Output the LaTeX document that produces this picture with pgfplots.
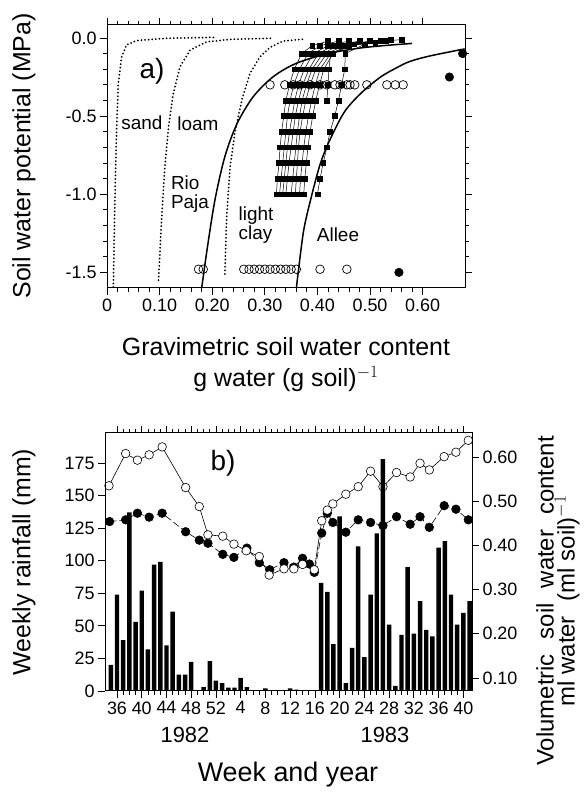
\documentclass[border=0pt]{standalone}
\usepackage{fontspec}
\setmainfont{Liberation Sans}
\usepackage{pgfplots}
\pgfplotsset{compat=1.18}
\newcommand{\fs}[1]{\fontsize{#1}{#1}\selectfont}

\pgfplotsset{
  frame/.style={scale only axis, clip=false, tick align=outside,
    major tick length=7bp, minor tick length=4bp,
    every tick/.style={black, line width=0.8bp},
    axis line style={line width=1bp},
    tick label style={font=\fs{18}},
    /pgf/number format/assume math mode=true},
  sq/.style={black, line width=0.5bp, mark=square*, mark size=2.4bp},
  dots/.style={black, line width=2bp, line cap=round, dash pattern=on 0bp off 3.6bp},
  curve/.style={black, line width=1.5bp, smooth},
}

\begin{document}
\begin{tikzpicture}[x=1bp,y=1bp]
\path[use as bounding box] (0,0) rectangle (584,793);

% ---- a) ----
\begin{axis}[frame, at={(107bp,505bp)}, anchor=south west, width=358bp, height=263bp,
  xmin=0, xmax=0.6806, ymin=-1.6, ymax=0.083,
  xtick={0,0.1,0.2,0.3,0.4,0.5,0.6}, xticklabels={0,0.10,0.20,0.30,0.40,0.50,0.60},
  minor x tick num=4,
  ytick={-1.5,-1,-0.5,0}, yticklabels={-1.5,-1.0,-0.5,0.0}, minor y tick num=4]
% sand
\addplot[dots] coordinates {(0.012,-1.594) (0.015,-1.04) (0.018,-0.61) (0.0215,-0.29) (0.028,-0.12) (0.037,-0.045) (0.056,-0.017) (0.113,-0.002) (0.209,0.004)};
% loam
\addplot[dots] coordinates {(0.098,-1.55) (0.104,-1.145) (0.110,-0.825) (0.117,-0.57) (0.126,-0.355) (0.139,-0.184) (0.158,-0.077) (0.19,-0.024) (0.24,-0.008) (0.316,-0.002)};
% light clay
\addplot[dots] coordinates {(0.224,-1.51) (0.2275,-1.145) (0.234,-0.825) (0.243,-0.61) (0.256,-0.40) (0.272,-0.226) (0.291,-0.12) (0.31,-0.06) (0.335,-0.02) (0.373,-0.008)};
% Rio Paja
\addplot[curve] coordinates {(0.18,-1.6) (0.19,-1.36) (0.205,-1.04) (0.224,-0.76) (0.247,-0.55) (0.278,-0.376) (0.316,-0.248) (0.36,-0.162) (0.42,-0.1) (0.48,-0.065) (0.53,-0.048) (0.58,-0.035)};
% Allee
\addplot[curve] coordinates {(0.36,-1.6) (0.373,-1.25) (0.386,-1.05) (0.405,-0.81) (0.424,-0.65) (0.452,-0.47) (0.484,-0.35) (0.52,-0.25) (0.551,-0.19) (0.576,-0.15) (0.614,-0.115) (0.68,-0.07)};
% drying curves
\addplot[sq] coordinates {(0.322,-1)(0.324,-0.9)(0.327,-0.8)(0.329,-0.7)(0.332,-0.6)(0.336,-0.5)(0.340,-0.4)(0.347,-0.3)(0.356,-0.2)(0.37,-0.1)(0.39,-0.05)(0.42,-0.02)};
\addplot[sq] coordinates {(0.328,-1)(0.331,-0.9)(0.334,-0.8)(0.337,-0.7)(0.340,-0.6)(0.343,-0.5)(0.348,-0.4)(0.355,-0.3)(0.366,-0.2)(0.382,-0.1)(0.405,-0.05)(0.44,-0.02)};
\addplot[sq] coordinates {(0.334,-1)(0.337,-0.9)(0.340,-0.8)(0.343,-0.7)(0.347,-0.6)(0.352,-0.5)(0.357,-0.4)(0.364,-0.3)(0.375,-0.2)(0.392,-0.1)(0.42,-0.05)(0.46,-0.02)};
\addplot[sq] coordinates {(0.340,-1)(0.343,-0.9)(0.346,-0.8)(0.350,-0.7)(0.354,-0.6)(0.358,-0.5)(0.364,-0.4)(0.372,-0.3)(0.384,-0.2)(0.402,-0.1)(0.43,-0.05)(0.48,-0.02)};
\addplot[sq] coordinates {(0.350,-1)(0.353,-0.9)(0.356,-0.8)(0.359,-0.7)(0.362,-0.6)(0.366,-0.5)(0.371,-0.4)(0.379,-0.3)(0.39,-0.2)(0.41,-0.1)(0.44,-0.05)(0.50,-0.02)};
\addplot[sq] coordinates {(0.358,-1)(0.36,-0.9)(0.362,-0.8)(0.364,-0.7)(0.367,-0.6)(0.372,-0.5)(0.378,-0.4)(0.386,-0.3)(0.397,-0.2)(0.418,-0.1)(0.45,-0.05)(0.52,-0.02)};
\addplot[sq] coordinates {(0.366,-1)(0.368,-0.9)(0.371,-0.8)(0.374,-0.7)(0.378,-0.6)(0.383,-0.5)(0.389,-0.4)(0.396,-0.3)(0.405,-0.2)(0.425,-0.1)(0.46,-0.05)(0.54,-0.01)};
\addplot[sq] coordinates {(0.374,-1)(0.376,-0.9)(0.379,-0.8)(0.382,-0.7)(0.386,-0.6)(0.391,-0.5)(0.397,-0.4)(0.404,-0.3)(0.412,-0.2)(0.43,-0.1)(0.47,-0.04)(0.56,-0.01)};
\addplot[sq] coordinates {(0.40,-1)(0.405,-0.9)(0.411,-0.8)(0.418,-0.7)(0.424,-0.6)(0.433,-0.5)(0.44,-0.4)(0.446,-0.3)(0.452,-0.2)(0.453,-0.1)(0.49,-0.04)(0.53,-0.02)};
\addplot[sq] coordinates {(0.418,-0.4)(0.42,-0.3)(0.422,-0.2)(0.425,-0.1)(0.46,-0.05)(0.51,-0.03)};
% field points
\addplot[only marks, mark=o, mark size=4.3bp, line width=0.7bp, mark options={fill=white}] coordinates {
(0.31,-0.3)(0.338,-0.3)(0.354,-0.3)(0.367,-0.3)(0.386,-0.3)(0.405,-0.3)(0.418,-0.3)(0.433,-0.3)
(0.443,-0.3)(0.456,-0.3)(0.462,-0.3)(0.471,-0.3)(0.494,-0.3)(0.532,-0.3)(0.548,-0.3)(0.563,-0.3)
(0.174,-1.48)(0.183,-1.48)(0.26,-1.48)(0.27,-1.48)(0.28,-1.48)(0.29,-1.48)(0.30,-1.48)(0.31,-1.48)
(0.32,-1.48)(0.33,-1.48)(0.34,-1.48)(0.35,-1.48)(0.36,-1.48)(0.405,-1.48)(0.456,-1.48)};
\addplot[only marks, mark=*, mark size=4.3bp] coordinates {(0.555,-1.5)(0.651,-0.25)(0.676,-0.1)};
\end{axis}

% ---- b) soil water (right axis) ----
\begin{axis}[frame, at={(105bp,102bp)}, anchor=south west, width=367bp, height=258bp,
  xmin=34.06, xmax=93.4, ymin=0.0706, ymax=0.6545,
  axis x line=none, axis y line*=right,
  ytick={0.1,0.2,0.3,0.4,0.5,0.6}, yticklabels={0.10,0.20,0.30,0.40,0.50,0.60}]
\addplot[black, line width=0.6bp, dash pattern=on 7bp off 3bp, mark=*, mark size=4.3bp, mark options={solid}] coordinates {
(34.8,0.454)(37.4,0.458)(39.3,0.473)(41.2,0.464)(43.3,0.473)(47.1,0.431)(49.3,0.412)(50.7,0.405)
(53.1,0.380)(54.9,0.373)(57.0,0.394)(59.0,0.361)(60.7,0.345)(63.0,0.361)(64.6,0.351)(66.0,0.371)
(67.1,0.358)(67.9,0.339)(69.1,0.428)(70.0,0.473)(70.9,0.452)(73.0,0.430)(75.0,0.458)(77.0,0.452)
(79.0,0.445)(81.2,0.465)(83.4,0.448)(85.0,0.465)(86.5,0.441)(88.9,0.490)(90.8,0.482)(92.8,0.458)};
\addplot[black, line width=0.6bp, mark=*, mark size=4.3bp, mark options={fill=white}] coordinates {
(34.7,0.535)(37.4,0.608)(39.3,0.593)(41.2,0.605)(43.3,0.623)(47.1,0.531)(49.3,0.488)(50.7,0.424)
(53.1,0.421)(54.9,0.403)(56.9,0.388)(59.0,0.375)(60.6,0.333)(63.0,0.347)(64.6,0.347)(66.0,0.357)
(67.9,0.345)(69.1,0.456)(70.0,0.48)(70.9,0.494)(73.0,0.516)(75.0,0.533)(77.0,0.568)(79.0,0.533)
(81.2,0.565)(83.4,0.555)(85.0,0.586)(86.5,0.571)(88.9,0.601)(90.8,0.611)(92.8,0.638)};
\end{axis}

% ---- b) rainfall (left axis) ----
\begin{axis}[frame, at={(105bp,102bp)}, anchor=south west, width=367bp, height=258bp,
  xmin=34.06, xmax=93.4, ymin=0, ymax=198,
  xtick={36,40,44,48,52,56,60,64,68,72,76,80,84,88,92},
  xticklabels={36,40,44,48,52,4,8,12,16,20,24,28,32,36,40}, minor x tick num=3,
  ytick={0,25,50,75,100,125,150,175}, yticklabels={0,25,50,75,100,125,150,175},
  ytick pos=left]
\addplot[ybar, bar width=0.72, fill=black, draw=none] coordinates {
(35,20)(36,74)(37,39)(38,137)(39,53)(40,77)(41,32)(42,97)(43,99)(44,35)(45,61)(46,12.6)(47,12.6)
(48,22.4)(50,3)(51,23)(52,8)(53,6)(54,2.5)(55,2.5)(56,10)(57,3)(60,2)(64,2)(65,1)
(69,83)(70,76)(71,36)(72,134)(73,6)(74,33)(75,111)(76,26)(77,74)(78,121)(79,178)(80,51)(81,4)
(82,43)(83,95)(84,44)(85,69)(86,47)(87,42)(88,110)(89,115)(90,74)(91,51)(92,60)(93,69)};
\end{axis}

% ---- text ----
\node[font=\fs{28}] at (152,722) {a)};
\node[font=\fs{19}] at (142,670) {sand};
\node[font=\fs{19}] at (198,669) {loam};
\node[font=\fs{19}, align=left] at (190,599) {Rio\\Paja};
\node[font=\fs{19}, align=left] at (256,568) {light\\clay};
\node[font=\fs{19}] at (338,558) {Allee};
\node[font=\fs{25}, rotate=90] at (24,637) {Soil water potential (MPa)};
\node[font=\fs{25}] at (286,446) {Gravimetric soil water content};
\node[font=\fs{25}] at (286,414) {g water (g soil)$^{-1}$};

\node[font=\fs{28}] at (223,330) {b)};
\node[font=\fs{25}, rotate=90] at (24,231) {Weekly rainfall (mm)};
\node[font=\fs{24}, rotate=90] at (545,192) {Volumetric\hspace{0.35em} soil\hspace{0.35em} water\hspace{0.35em} content};
\node[font=\fs{24}, rotate=90] at (567,192) {ml water\hspace{0.35em} (ml soil)$^{-1}$};
\node[font=\fs{22}] at (185,58) {1982};
\node[font=\fs{22}] at (385,58) {1983};
\node[font=\fs{27}] at (288,18) {Week and year};
\end{tikzpicture}
\end{document}
